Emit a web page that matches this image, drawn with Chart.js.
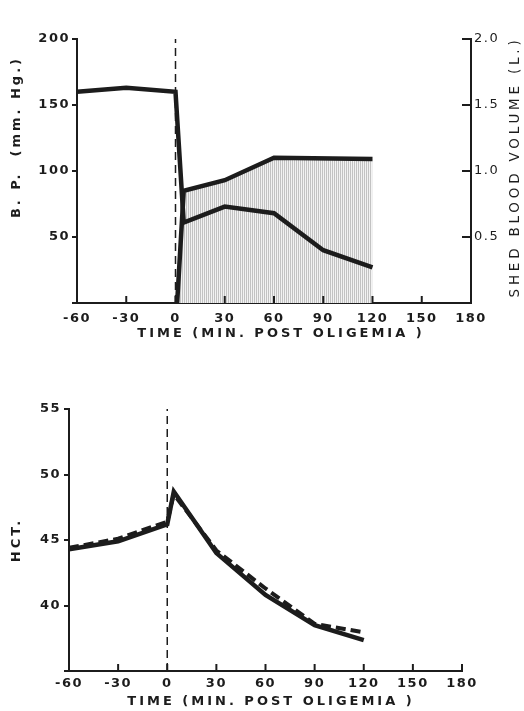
<!DOCTYPE html>
<html>
<head>
<meta charset="utf-8">
<script src="https://cdn.jsdelivr.net/npm/chart.js@4.4.1/dist/chart.umd.min.js"></script>
<style>
  body { margin: 0; background: #fff; }
  #top { position: absolute; left: 0; top: 0; width: 524px; height: 356px; }
  #bottom { position: absolute; left: 0; top: 356px; width: 524px; height: 355px; }
</style>
</head>
<body>
<div id="top"><canvas id="bpChart"></canvas></div>
<div id="bottom"><canvas id="hctChart"></canvas></div>
<script>
// time axis (minutes post oligemia)
const timeTicks = [-60, -30, 0, 30, 60, 90, 120, 150, 180];
const oligemiaStart = 0;

// blood pressure (mm Hg)
const bpTime = [-60, -30, 0, 5, 30, 60, 90, 120];
const bpValues = [160, 163, 160, 61, 73, 68, 40, 27];

// shed blood volume (L)
const shedTime = [1, 5, 30, 60, 120];
const shedValues = [0, 0.85, 0.93, 1.10, 1.09];

// hematocrit
const hctTime = [-60, -30, 0, 4, 30, 60, 90, 120];
const hctSolid = [44.3, 44.9, 46.2, 48.7, 44.0, 40.8, 38.5, 37.35];
const hctDashed = [44.4, 45.1, 46.4, 48.5, 44.2, 41.3, 38.6, 37.95];

const ink = "#1c1c1c";
const tickFont = { family: "DejaVu Sans", size: 13, weight: "bold" };

function pts(xs, ys) {
  return xs.map((x, i) => ({ x: x, y: ys[i] }));
}

// axis titles with letter spacing, plus tick marks that point into the plot
const axisTitles = {
  id: "axisTitles",
  beforeDraw(chart) {
    chart.ctx.letterSpacing = "1.5px";
  },
  afterDraw(chart, args, opts) {
    const ctx = chart.ctx;
    ctx.save();
    ctx.strokeStyle = ink;
    ctx.lineWidth = 2;
    (opts.inward || []).forEach((id) => {
      const s = chart.scales[id];
      s.ticks.forEach((t) => {
        ctx.beginPath();
        if (s.isHorizontal()) {
          const px = s.getPixelForValue(t.value);
          ctx.moveTo(px, s.top);
          ctx.lineTo(px, s.top - 7);
        } else {
          const py = s.getPixelForValue(t.value);
          ctx.moveTo(s.left, py);
          ctx.lineTo(s.left - 9, py);
        }
        ctx.stroke();
      });
    });
    ctx.restore();

    (opts.items || []).forEach((t) => {
      ctx.save();
      ctx.letterSpacing = t.spacing + "px";
      ctx.font = (t.weight || "bold") + " " + t.size + "px DejaVu Sans";
      ctx.fillStyle = ink;
      ctx.textAlign = "center";
      ctx.textBaseline = "middle";
      ctx.translate(t.x, t.y);
      if (t.rotate) ctx.rotate(-Math.PI / 2);
      ctx.fillText(t.text, 0, 0);
      ctx.restore();
    });
  },
};

function xScale(padding) {
  return {
    type: "linear",
    min: -60,
    max: 180,
    afterBuildTicks: (s) => { s.ticks = timeTicks.map((v) => ({ value: v })); },
    border: { color: ink, width: 2 },
    grid: { display: false, drawTicks: false },
    ticks: { color: ink, font: tickFont, padding: padding, maxRotation: 0, autoSkip: false },
  };
}

// top chart: blood pressure and shed blood volume
const c1 = document.getElementById("bpChart").getContext("2d");
const pat = document.createElement("canvas");
pat.width = 2;
pat.height = 1;
const pctx = pat.getContext("2d");
pctx.fillStyle = "#f2f2f2";
pctx.fillRect(0, 0, 2, 1);
pctx.fillStyle = "#c2c2c2";
pctx.fillRect(0, 0, 1, 1);
const hatch = c1.createPattern(pat, "repeat");

new Chart(c1, {
  type: "line",
  data: {
    datasets: [
      {
        label: "B.P.",
        data: pts(bpTime, bpValues),
        borderColor: ink,
        borderWidth: 4.5,
        pointRadius: 0,
        yAxisID: "y",
        order: 1,
      },
      {
        label: "Shed blood volume",
        data: pts(shedTime, shedValues),
        borderColor: ink,
        borderWidth: 4.5,
        pointRadius: 0,
        backgroundColor: hatch,
        fill: "origin",
        yAxisID: "y2",
        order: 2,
      },
      {
        label: "start",
        data: [{ x: oligemiaStart, y: 0 }, { x: oligemiaStart, y: 200 }],
        borderColor: ink,
        borderWidth: 1.5,
        borderDash: [8, 5],
        pointRadius: 0,
        yAxisID: "y",
        order: 0,
      },
    ],
  },
  options: {
    responsive: true,
    maintainAspectRatio: false,
    animation: false,
    layout: { padding: { top: 39, left: 0, right: 0, bottom: 0 } },
    plugins: {
      legend: { display: false },
      tooltip: { enabled: false },
      axisTitles: {
        inward: ["x", "y2"],
        items: [
          { text: "TIME (MIN. POST OLIGEMIA )", x: 281, y: 334, size: 13, spacing: 3 },
          { text: "B. P.  (mm. Hg.)", x: 17, y: 137, size: 13, spacing: 3, rotate: true },
          { text: "SHED BLOOD VOLUME (L.)", x: 515, y: 167, size: 13.5, spacing: 3.8, rotate: true, weight: "normal" },
        ],
      },
    },
    scales: {
      x: Object.assign(xScale(8), { afterFit: (s) => { s.height = 53; } }),
      y: {
        min: 0,
        max: 200,
        position: "left",
        afterFit: (s) => { s.width = 77; },
        border: { color: ink, width: 2 },
        grid: { drawOnChartArea: false, color: ink, lineWidth: 2, tickLength: 5 },
        ticks: { stepSize: 50, color: ink, font: tickFont, padding: 2, callback: (v) => (v === 0 ? "" : v) },
      },
      y2: {
        min: 0,
        max: 2,
        position: "right",
        afterFit: (s) => { s.width = 53; },
        border: { color: ink, width: 2 },
        grid: { display: false, drawTicks: false },
        ticks: {
          stepSize: 0.5,
          color: ink,
          font: { family: "DejaVu Sans", size: 13, weight: "normal" },
          padding: 3,
          callback: (v) => (v === 0 ? "" : v.toFixed(1)),
        },
      },
    },
  },
  plugins: [axisTitles],
});

// bottom chart: hematocrit
const c2 = document.getElementById("hctChart").getContext("2d");
new Chart(c2, {
  type: "line",
  data: {
    datasets: [
      {
        label: "HCT solid",
        data: pts(hctTime, hctSolid),
        borderColor: ink,
        borderWidth: 4.5,
        pointRadius: 0,
      },
      {
        label: "HCT dashed",
        data: pts(hctTime, hctDashed),
        borderColor: ink,
        borderWidth: 4,
        borderDash: [10, 5],
        pointRadius: 0,
      },
      {
        label: "start",
        data: [{ x: oligemiaStart, y: 35 }, { x: oligemiaStart, y: 55 }],
        borderColor: ink,
        borderWidth: 1.5,
        borderDash: [8, 5],
        pointRadius: 0,
      },
    ],
  },
  options: {
    responsive: true,
    maintainAspectRatio: false,
    animation: false,
    layout: { padding: { top: 53, left: 0, right: 62, bottom: 0 } },
    plugins: {
      legend: { display: false },
      tooltip: { enabled: false },
      axisTitles: {
        inward: ["x"],
        items: [
          { text: "TIME (MIN. POST OLIGEMIA )", x: 271, y: 346, size: 13, spacing: 3 },
          { text: "HCT.", x: 17, y: 184, size: 13, spacing: 3, rotate: true },
        ],
      },
    },
    scales: {
      x: Object.assign(xScale(5), { afterFit: (s) => { s.height = 40; } }),
      y: {
        min: 35,
        max: 55,
        afterFit: (s) => { s.width = 69; },
        border: { color: ink, width: 2 },
        grid: { drawOnChartArea: false, color: ink, lineWidth: 2, tickLength: 5 },
        ticks: { stepSize: 5, color: ink, font: tickFont, padding: 3, callback: (v) => (v === 35 ? "" : v) },
      },
    },
  },
  plugins: [axisTitles],
});
</script>
</body>
</html>
